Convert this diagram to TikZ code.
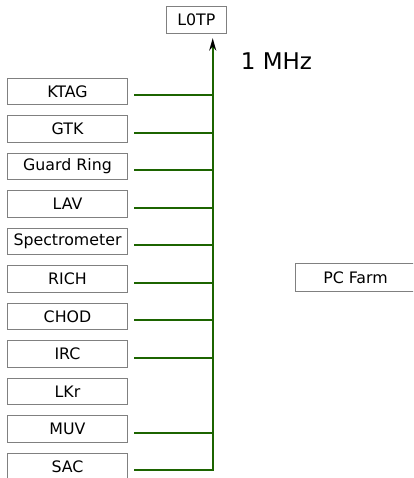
\documentclass[tikz,border=0pt]{standalone}
\usepackage{fontspec}
\setmainfont{DejaVu Sans}
\usetikzlibrary{arrows.meta,calc,positioning}
\definecolor{triggerline}{RGB}{28,100,0}
\definecolor{boxframe}{RGB}{128,128,128}
\tikzset{
  detbox/.style={draw=boxframe,line width=0.8pt,minimum width=120.5pt,minimum height=26.6pt,inner sep=0pt,font=\fontsize{15.8}{18}\selectfont},
  primline/.style={triggerline,line width=2pt}
}
\newcommand{\detrow}[3]{%
  \node[detbox] (#2) at (67.5,{91.5+37.5*#1}) {#3};%
  \coordinate (#2-tap) at (212.7,{95.3+37.5*#1});%
}

\begin{document}
\begin{tikzpicture}[x=1pt,y=-1pt]
  \useasboundingbox (0,0) rectangle (413,478);
  \clip (0,0) rectangle (413,478);
  \node[detbox,minimum width=60.6pt] (l0tp) at (196.4,20) {L0TP};
  \node[font=\fontsize{23}{27}\selectfont] (rate) at (276.5,61) {1 MHz};
  \detrow{0}{ktag}{KTAG}
  \detrow{1}{gtk}{GTK}
  \detrow{2}{guard}{Guard Ring}
  \detrow{3}{lav}{LAV}
  \detrow{4}{spec}{Spectrometer}
  \detrow{5}{rich}{RICH}
  \detrow{6}{chod}{CHOD}
  \detrow{7}{irc}{IRC}
  \detrow{8}{lkr}{LKr}
  \detrow{9}{muv}{MUV}
  \detrow{10}{sac}{SAC}
  \node[detbox,minimum height=28pt] (pcfarm) at (355.5,277.5) {PC Farm};
  % primitives into L0TP
  \foreach \dname in {ktag,gtk,guard,lav,spec,rich,chod,irc,muv}
    \draw[primline] ([xshift=6pt]\dname.east |- \dname-tap) -- (\dname-tap);
  \draw[primline,shorten >=4.4pt,-{Stealth[black,length=12.5pt,width=7pt,inset=4pt]}]
    ([xshift=6pt]sac.east |- sac-tap) -- (sac-tap) -- (l0tp.south -| sac-tap);
\end{tikzpicture}
\end{document}
